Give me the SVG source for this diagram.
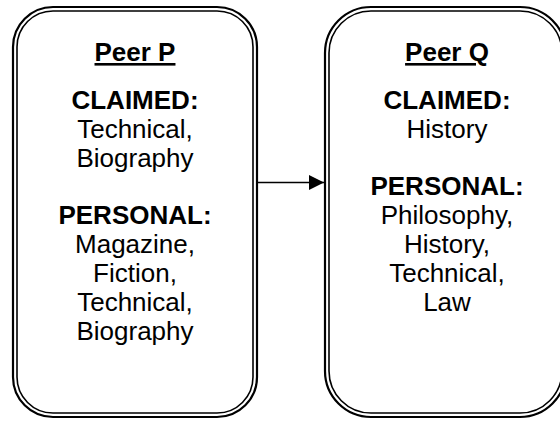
<svg xmlns="http://www.w3.org/2000/svg" width="560" height="422" viewBox="0 0 560 422">
<style>
.outer{fill:none;stroke:#000;stroke-width:2.2}
.inner{fill:none;stroke:#000;stroke-width:1.6}
text{font-family:"Liberation Sans",Arial,sans-serif;font-size:26px;fill:#000;text-anchor:middle}
.b{font-weight:bold}
.u{font-weight:bold;text-decoration:underline}
.conn{stroke:#000;stroke-width:1.6;fill:none}
</style>
<defs>
<marker id="ah" markerWidth="16" markerHeight="16" refX="15" refY="7.5" orient="auto" markerUnits="userSpaceOnUse">
<path d="M0,0 L15,7.5 L0,15 Z" fill="#000"/>
</marker>
</defs>
<rect width="560" height="422" fill="#fff"/>
<g id="peerP">
<rect class="outer" x="13" y="7" width="244" height="410" rx="40" ry="40"/>
<rect class="inner" x="17" y="11" width="236" height="402" rx="36" ry="36"/>
<text class="u" x="135" y="61">Peer P</text>
<text class="b" x="135" y="109">CLAIMED:</text>
<text x="135" y="138">Technical,</text>
<text x="135" y="167">Biography</text>
<text class="b" x="135" y="224">PERSONAL:</text>
<text x="135" y="253">Magazine,</text>
<text x="135" y="282">Fiction,</text>
<text x="135" y="311">Technical,</text>
<text x="135" y="340">Biography</text>
</g>
<g id="peerQ">
<rect class="outer" x="325" y="7" width="241" height="410" rx="46" ry="46"/>
<rect class="inner" x="329" y="11" width="233" height="402" rx="42" ry="42"/>
<text class="u" x="447" y="61">Peer Q</text>
<text class="b" x="447" y="109">CLAIMED:</text>
<text x="447" y="138">History</text>
<text class="b" x="447" y="195">PERSONAL:</text>
<text x="447" y="224">Philosophy,</text>
<text x="447" y="253">History,</text>
<text x="447" y="282">Technical,</text>
<text x="447" y="311">Law</text>
</g>
<g id="connectors">
<line class="conn" x1="258" y1="182.5" x2="324" y2="182.5" marker-end="url(#ah)"/>
</g>
</svg>
